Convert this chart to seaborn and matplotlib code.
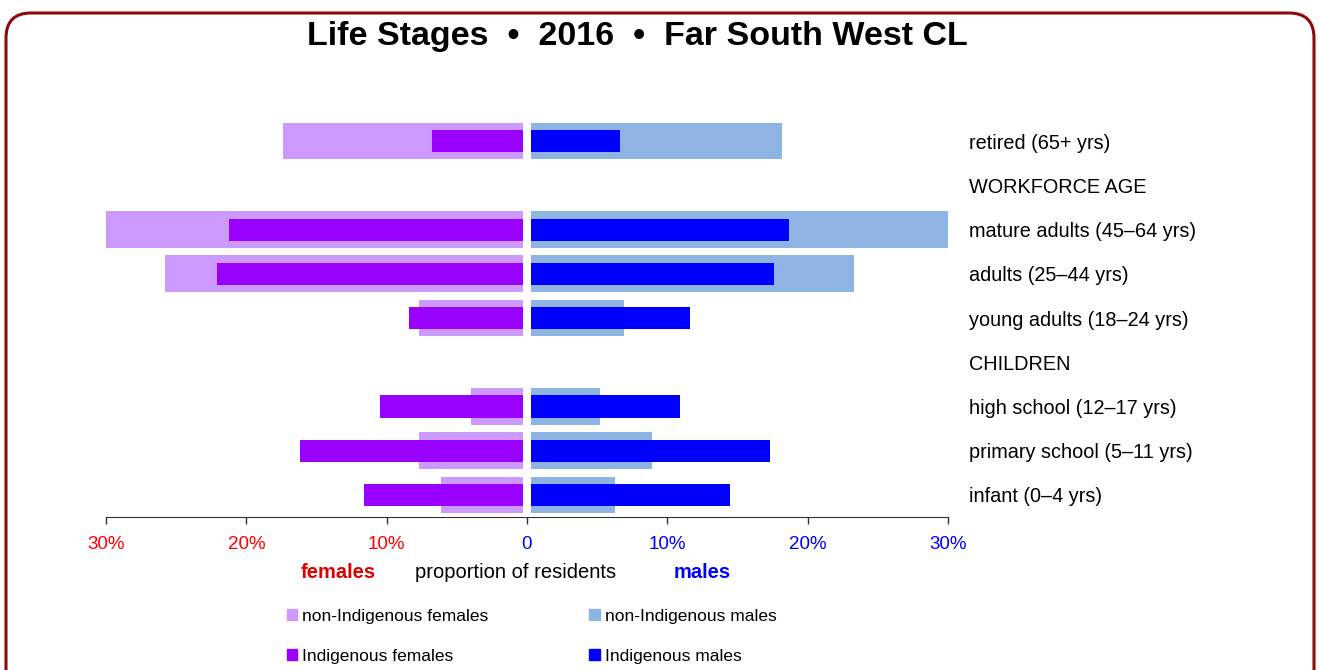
import seaborn as sns
import matplotlib.pyplot as plt
from matplotlib.patches import Patch, FancyBboxPatch

stages = ["retired (65+ yrs)", "WORKFORCE AGE", "mature adults (45–64 yrs)",
          "adults (25–44 yrs)", "young adults (18–24 yrs)", "CHILDREN",
          "high school (12–17 yrs)", "primary school (5–11 yrs)",
          "infant (0–4 yrs)"]
# percent of residents, header rows are 0
nonind_females = [17.4, 0, 30.1, 25.8, 7.7, 0, 4.0, 7.7, 6.1]
ind_females = [6.8, 0, 21.2, 22.1, 8.4, 0, 10.5, 16.2, 11.6]
nonind_males = [18.2, 0, 30.2, 23.3, 6.9, 0, 5.2, 8.9, 6.3]
ind_males = [6.6, 0, 18.7, 17.6, 11.6, 0, 10.9, 17.3, 14.5]

xticks = [-30, -20, -10, 0, 10, 20, 30]
xtick_labels = ["30%", "20%", "10%", "0", "10%", "20%", "30%"]

C_NONF = "#CC99FF"
C_INDF = "#9900FF"
C_NONM = "#8DB4E2"
C_INDM = "#0000FF"


def bars(ax, values, color, width, sign):
    sns.barplot(x=[sign * v for v in values], y=stages, order=stages,
                orient="h", color=color, width=width, saturation=1,
                linewidth=0, errorbar=None, ax=ax)


def main():
    sns.set_style("white")
    plt.rcParams['font.family'] = ['Liberation Sans', 'DejaVu Sans']
    plt.rcParams['text.color'] = 'black'
    plt.rcParams['ytick.color'] = 'black'

    W, H = 1320, 670
    fig = plt.figure(figsize=(W / 100, H / 100), dpi=100)
    ax = fig.add_axes([106 / W, 1 - 517 / H, 842 / W, 398 / H])

    # wide non-Indigenous bars behind, narrow Indigenous bars in front
    bars(ax, nonind_females, C_NONF, 0.83, -1)
    bars(ax, nonind_males, C_NONM, 0.83, 1)
    bars(ax, ind_females, C_INDF, 0.5, -1)
    bars(ax, ind_males, C_INDM, 0.5, 1)

    # white gap down the middle
    ax.axvspan(-0.3, 0.3, color="white", zorder=5, lw=0)

    ax.set_xlim(-30, 30)
    ax.set_ylim(8.5, -0.5)
    ax.set_xlabel("")
    ax.set_ylabel("")
    ax.set_xticks(xticks)
    ax.set_xticklabels(xtick_labels)
    for lbl, t in zip(ax.get_xticklabels(), xticks):
        lbl.set_color("#FF0000" if t < 0 else "#0000FF")
    ax.tick_params(axis="x", bottom=True, length=5, width=1, color="#333333",
                   pad=9, labelsize=13.5)
    ax.yaxis.tick_right()
    ax.tick_params(axis="y", length=0, pad=15, labelsize=14.3,
                   labelcolor="black")
    for s in ["top", "left", "right"]:
        ax.spines[s].set_visible(False)
    ax.spines["bottom"].set_color("#333333")

    fig.text(637 / W, 1 - 37 / H, "Life Stages  •  2016  •  Far South West CL",
             ha="center", va="center", fontsize=24.5, fontweight="bold")
    fig.text(338 / W, 1 - 573 / H, "females", ha="center", va="center",
             fontsize=14.5, fontweight="bold", color="#E00000")
    fig.text(516 / W, 1 - 573 / H, "proportion of residents", ha="center",
             va="center", fontsize=14.5)
    fig.text(702 / W, 1 - 573 / H, "males", ha="center", va="center",
             fontsize=14.5, fontweight="bold", color="#0000FF")

    handles = [Patch(color=C_NONF), Patch(color=C_INDF),
               Patch(color=C_NONM), Patch(color=C_INDM)]
    labels = ["non-Indigenous females", "Indigenous females",
              "non-Indigenous males", "Indigenous males"]
    fig.legend(handles, labels, ncol=2, loc="upper left",
               bbox_to_anchor=(278 / W, 1 - 600 / H), frameon=False,
               fontsize=12.5, handlelength=0.6, handleheight=0.6,
               handletextpad=0.3, columnspacing=5.8, labelspacing=1.45,
               borderpad=0)

    border = FancyBboxPatch((0.06, -0.5), 13.08, 7.07,
                            boxstyle="round,pad=0,rounding_size=0.25",
                            transform=fig.dpi_scale_trans, fill=False,
                            edgecolor="#8B0A0A", linewidth=2.2)
    fig.patches.append(border)

    fig.savefig("out.png", dpi=100)


if __name__ == "__main__":
    main()
